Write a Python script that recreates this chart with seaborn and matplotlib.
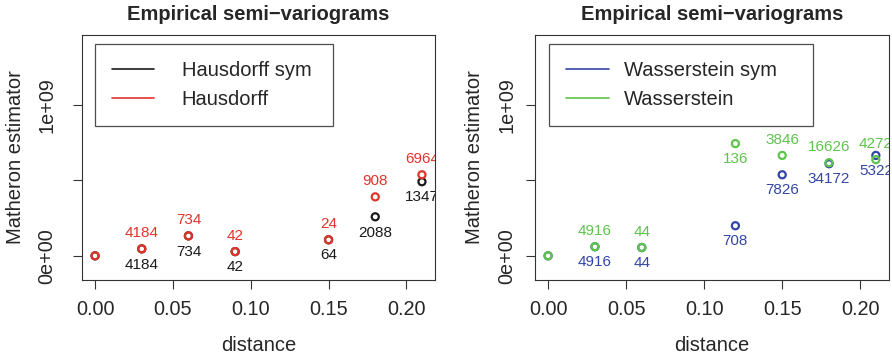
import matplotlib
matplotlib.use("Agg")
import matplotlib.pyplot as plt
from matplotlib.lines import Line2D
import numpy as np
import pandas as pd
import seaborn as sns

sns.set_style("white")
plt.rcParams["font.family"] = ["Liberation Sans", "DejaVu Sans"]

# Lag distances
distance = [0.00, 0.03, 0.06, 0.09, 0.15, 0.18, 0.21]
distance_w = [0.00, 0.03, 0.06, 0.12, 0.15, 0.18, 0.21]

# Matheron estimator values (units of 1e9)
hausdorff_sym = [0.0, 0.046, 0.132, 0.028, 0.106, 0.258, 0.49]
hausdorff = [0.0, 0.046, 0.132, 0.028, 0.106, 0.39, 0.536]
wasserstein_sym = [0.0, 0.06, 0.055, 0.199, 0.536, 0.609, 0.664]
wasserstein = [0.0, 0.06, 0.055, 0.742, 0.664, 0.616, 0.636]

# Number of pairs per lag (no label at lag 0)
n_hausdorff_sym = ["", "4184", "734", "42", "64", "2088", "1347"]
n_hausdorff = ["", "4184", "734", "42", "24", "908", "6964"]
n_wasserstein_sym = ["", "4916", "44", "708", "7826", "34172", "5322"]
n_wasserstein = ["", "4916", "44", "136", "3846", "16626", "4272"]

# Label side for each series (+1 above, -1 below)
side_wasserstein = [1, 1, 1, -1, 1, 1, 1]

colors = {"Hausdorff sym": "#1a1a1a", "Hausdorff": "#e0352b",
          "Wasserstein sym": "#3346a6", "Wasserstein": "#5ec44c"}

fig = plt.figure(figsize=(8.92, 3.54), dpi=100)
ax1 = fig.add_axes([0.0919, 0.209, 0.3958, 0.692])
ax2 = fig.add_axes([0.5998, 0.209, 0.3968, 0.692])

panels = [
    (ax1, [("Hausdorff sym", distance, hausdorff_sym, n_hausdorff_sym, [-1] * 7),
           ("Hausdorff", distance, hausdorff, n_hausdorff, [1] * 7)]),
    (ax2, [("Wasserstein sym", distance_w, wasserstein_sym, n_wasserstein_sym, [-1] * 7),
           ("Wasserstein", distance_w, wasserstein, n_wasserstein, side_wasserstein)]),
]

for ax, series in panels:
    for n, x, y, labs, sides in series:
        df = pd.DataFrame({"distance": x, "gamma": np.array(y) * 1e9})
        sns.scatterplot(data=df, x="distance", y="gamma", marker="o", s=26,
                        facecolor="none", edgecolor=colors[n], linewidth=1.6,
                        legend=False, ax=ax, zorder=3)
        for xi, yi, lab, sd in zip(x, y, labs, sides):
            if not lab:
                continue
            ax.annotate(lab, (xi, yi * 1e9), xytext=(0, 11.3 * sd),
                        textcoords="offset points", ha="center", va="center",
                        fontsize=11, color=colors[n], annotation_clip=False,
                        clip_on=True)
    ax.set_xlim(-0.0084, 0.2184)
    ax.set_ylim(-0.16e9, 1.46e9)
    ax.set_xticks([0.0, 0.05, 0.10, 0.15, 0.20])
    ax.set_xticklabels(["0.00", "0.05", "0.10", "0.15", "0.20"])
    ax.set_yticks([0, 0.5e9, 1e9])
    ax.set_yticklabels(["0e+00", "", "1e+09"], rotation=90, va="center")
    ax.tick_params(axis="both", direction="out", length=6.5, width=0.8,
                   color="#333333", labelsize=14.3, bottom=True, left=True)
    ax.tick_params(axis="x", pad=8)
    for sp in ax.spines.values():
        sp.set_visible(True)
        sp.set_color("#333333")
        sp.set_linewidth(0.8)
    ax.set_xlabel("distance", fontsize=14.5, labelpad=12)
    ax.set_ylabel("Matheron estimator", fontsize=14.5)
    ax.set_title("Empirical semi\u2212variograms", fontsize=14.5,
                 fontweight="bold", pad=11)
    ax.grid(False)

ax1.tick_params(axis="y", pad=12)
ax2.tick_params(axis="y", pad=7)
ax1.yaxis.set_label_coords(-0.161, 0.5)
ax2.yaxis.set_label_coords(-0.144, 0.5)

for ax, series, box, gap in [
    (ax1, panels[0][1], (0.037, 0.629, 0.674, 0.334), 1.35),
    (ax2, panels[1][1], (0.040, 0.629, 0.745, 0.334), 0.75),
]:
    handles = [Line2D([], [], color=colors[n], lw=1.2) for n, *_ in series]
    leg = ax.legend(handles, [n for n, *_ in series], loc="upper left",
                    bbox_to_anchor=box, mode="expand", fontsize=14.5,
                    frameon=True, fancybox=False, edgecolor="#222222",
                    handlelength=2.1, handletextpad=gap, labelspacing=0.5,
                    borderpad=0.85, borderaxespad=0.0)
    leg.get_frame().set_linewidth(0.9)

fig.savefig("out.png", dpi=100)
